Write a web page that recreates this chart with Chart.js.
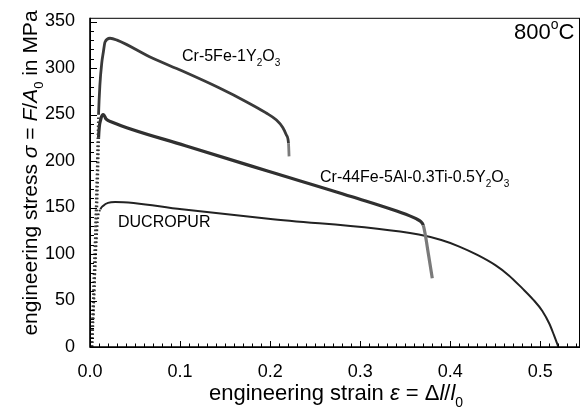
<!DOCTYPE html>
<html>
<head>
<meta charset="utf-8">
<script src="https://cdn.jsdelivr.net/npm/chart.js@4.4.0/dist/chart.umd.min.js"></script>
<style>
  body { margin: 0; background: #fff; }
  #wrap { width: 584px; height: 410px; }
</style>
</head>
<body>
<div id="wrap"><canvas id="stressStrain" width="584" height="410"></canvas></div>
<script>
// ----------- data ----------- //
const cr5FeX = [0.002, 0.004, 0.006, 0.008, 0.0095, 0.011, 0.013, 0.0148, 0.0167, 0.0222, 0.03, 0.0685, 0.102, 0.1426, 0.175, 0.195, 0.207, 0.214, 0.218, 0.2204, 0.221];
const cr5FeY = [0, 60, 120, 190, 250, 282, 305, 317, 328, 332, 330, 311, 297, 279, 263, 252, 244, 236, 228, 219, 205];

const cr44FeX = [0.002, 0.004, 0.006, 0.008, 0.0095, 0.012, 0.0148, 0.018, 0.024, 0.106, 0.198, 0.291, 0.355, 0.362, 0.367, 0.370, 0.372, 0.376, 0.380];
const cr44FeY = [0, 50, 110, 170, 225, 245, 250, 245, 242, 216.5, 189, 161.5, 141, 138, 135, 131, 122, 98, 74];

const ducropurX = [0.002, 0.004, 0.006, 0.008, 0.0093, 0.0115, 0.0148, 0.02, 0.028, 0.102, 0.198, 0.365, 0.39, 0.41, 0.43, 0.45, 0.465, 0.48, 0.492, 0.502, 0.51, 0.515, 0.52];
const ducropurY = [0, 40, 85, 125, 141, 148, 152, 155, 156, 148, 138, 121, 115, 108, 99, 88, 77, 63, 51, 39, 25, 13, 0];

const xTicks = [0, 0.1, 0.2, 0.3, 0.4, 0.5];
const yTicks = [0, 50, 100, 150, 200, 250, 300, 350];

const toPoints = (xs, ys) => xs.map((x, i) => ({ x: x, y: ys[i] }));

// rising (elastic) part of the curves is drawn dotted, like the sparse markers
const risingDots = (ctx) =>
  ctx.p0.parsed.x < 0.0095 && ctx.p1.parsed.y > ctx.p0.parsed.y ? [1.5, 2.5] : undefined;

const FONT = "'Liberation Sans', Arial, Helvetica, sans-serif";

// draws text pieces with italic / subscript / superscript parts
const drawRich = (ctx, parts, x, y, size, align) => {
  const fontOf = (p) => (p.it ? "italic " : "") + Math.round(p.sub || p.sup ? size * 0.62 : size) + "px " + FONT;
  let total = 0;
  parts.forEach((p) => {
    ctx.font = fontOf(p);
    total += ctx.measureText(p.t).width;
  });
  let cx = align === "center" ? x - total / 2 : x;
  parts.forEach((p) => {
    ctx.font = fontOf(p);
    let dy = p.sub ? size * 0.3 : p.sup ? -size * 0.45 : 0;
    ctx.fillText(p.t, cx, y + dy);
    cx += ctx.measureText(p.t).width;
  });
};

const framePlugin = {
  id: "framePlugin",
  afterDraw(chart) {
    const ctx = chart.ctx;
    const a = chart.chartArea;
    const xs = chart.scales.x;
    const ys = chart.scales.y;
    ctx.save();
    ctx.strokeStyle = "#000";
    ctx.fillStyle = "#000";

    // box
    ctx.lineWidth = 1;
    ctx.strokeRect(a.left + 0.5, a.top + 0.5, a.right - a.left - 1, a.bottom - a.top);
    ctx.lineWidth = 1.6;
    ctx.beginPath();
    ctx.moveTo(a.left, a.top);
    ctx.lineTo(a.left, a.bottom);
    ctx.lineTo(a.right, a.bottom);
    ctx.stroke();

    // inward ticks
    ctx.lineWidth = 1;
    ctx.beginPath();
    for (let i = 0; i <= 54; i++) {
      const px = Math.round(xs.getPixelForValue(i / 100)) + 0.5;
      const len = i % 10 === 0 ? 6 : 3.5;
      ctx.moveTo(px, a.bottom);
      ctx.lineTo(px, a.bottom - len);
    }
    for (let i = 0; i <= 35; i++) {
      const py = Math.round(ys.getPixelForValue(i * 10)) + 0.5;
      const len = i % 5 === 0 ? 7 : 4;
      ctx.moveTo(a.left, py);
      ctx.lineTo(a.left + len, py);
    }
    ctx.stroke();

    // labels on the curves
    ctx.textBaseline = "alphabetic";
    drawRich(ctx, [{ t: "Cr-5Fe-1Y" }, { t: "2", sub: true }, { t: "O" }, { t: "3", sub: true }], 182, 61, 15.5);
    drawRich(ctx, [{ t: "Cr-44Fe-5Al-0.3Ti-0.5Y" }, { t: "2", sub: true }, { t: "O" }, { t: "3", sub: true }], 320, 182, 15.5);
    drawRich(ctx, [{ t: "DUCROPUR" }], 118, 227, 15.5);
    drawRich(ctx, [{ t: "800" }, { t: "o", sup: true }, { t: "C" }], 514, 39, 22);

    // axis titles
    drawRich(ctx, [
      { t: "engineering strain " }, { t: "ε", it: true }, { t: " = Δ" },
      { t: "l", it: true }, { t: "/" }, { t: "l", it: true }, { t: "0", sub: true },
    ], 336, 400, 22, "center");

    ctx.translate(37, 173);
    ctx.rotate(-Math.PI / 2);
    drawRich(ctx, [
      { t: "engineering stress " }, { t: "σ", it: true }, { t: " = " },
      { t: "F", it: true }, { t: "/" }, { t: "A", it: true }, { t: "0", sub: true }, { t: " in MPa" },
    ], 0, 0, 20.5, "center");
    ctx.restore();
  },
};

// tailFrom: strain where the sparse fracture markers start (drawn lighter)
const lineSet = (xs, ys, color, width, tailFrom) => ({
  data: toPoints(xs, ys),
  showLine: true,
  borderColor: color,
  borderWidth: width,
  pointRadius: 0,
  cubicInterpolationMode: "monotone",
  segment: {
    borderDash: risingDots,
    borderColor: (ctx) => (ctx.p0.parsed.x >= tailFrom ? "#7a7a7a" : undefined),
  },
});

new Chart(document.getElementById("stressStrain"), {
  type: "scatter",
  data: {
    datasets: [
      lineSet(cr5FeX, cr5FeY, "#3a3a3a", 2.8, 0.2204),
      lineSet(cr44FeX, cr44FeY, "#303030", 3.2, 0.370),
      lineSet(ducropurX, ducropurY, "#222", 2, 1),
    ],
  },
  options: {
    responsive: false,
    animation: false,
    layout: { padding: { top: 12, right: 4, left: 0, bottom: 0 } },
    plugins: { legend: { display: false }, tooltip: { enabled: false } },
    scales: {
      x: {
        type: "linear",
        min: 0,
        max: 0.544,
        afterFit: (scale) => { scale.height = 63; },
        afterBuildTicks: (scale) => { scale.ticks = xTicks.map((v) => ({ value: v })); },
        grid: { display: false },
        border: { display: false },
        ticks: {
          color: "#000",
          padding: 6,
          font: { family: FONT, size: 18 },
          callback: (v) => v.toFixed(1),
        },
      },
      y: {
        type: "linear",
        min: 0,
        max: 354,
        afterFit: (scale) => { scale.width = 90; },
        afterBuildTicks: (scale) => { scale.ticks = yTicks.map((v) => ({ value: v })); },
        grid: { display: false },
        border: { display: false },
        ticks: {
          color: "#000",
          padding: 7,
          font: { family: FONT, size: 18 },
        },
      },
    },
  },
  plugins: [framePlugin],
});
</script>
</body>
</html>
